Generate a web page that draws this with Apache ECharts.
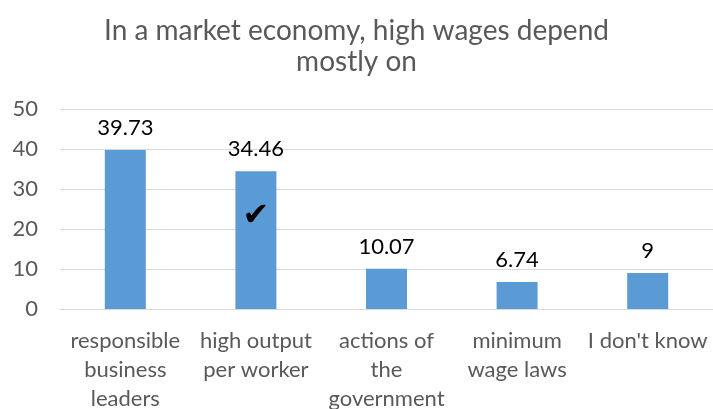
<!DOCTYPE html>
<html>
<head>
<meta charset="utf-8">
<script src="https://cdn.jsdelivr.net/npm/echarts@6/dist/echarts.min.js"></script>
<style>
  html, body { margin: 0; padding: 0; background: #fff; }
  #chart { width: 713px; height: 409px; }
</style>
</head>
<body>
<div id="chart"></div>
<script>
// Survey answers: what high wages depend on in a market economy
const categories = [
  'responsible\nbusiness\nleaders',
  'high output\nper worker',
  'actions of\nthe\ngovernment',
  'minimum\nwage laws',
  "I don't know"
];
const shares = [39.73, 34.46, 10.07, 6.74, 9];
const yTicks = { min: 0, max: 50, interval: 10 };
const correctIndex = 1;

const FONT = 'Lato, "Open Sans", sans-serif';

const chart = echarts.init(document.getElementById('chart'));
chart.setOption({
  animation: false,
  title: {
    text: 'In a market economy, high wages depend\nmostly on',
    left: 'center',
    top: 10,
    textStyle: {
      fontFamily: FONT,
      fontWeight: 'normal',
      fontSize: 28,
      lineHeight: 31,
      color: '#595959'
    }
  },
  grid: { left: 60, right: 0, top: 109, bottom: 100, outerBoundsMode: 'none', containLabel: false },
  xAxis: {
    type: 'category',
    data: categories,
    axisLine: { lineStyle: { color: '#d9d9d9' } },
    axisTick: { show: false },
    axisLabel: {
      interval: 0,
      margin: 17,
      fontFamily: FONT,
      fontSize: 22,
      lineHeight: 29,
      color: '#595959'
    }
  },
  yAxis: {
    type: 'value',
    min: yTicks.min,
    max: yTicks.max,
    interval: yTicks.interval,
    axisLine: { show: false },
    axisTick: { show: false },
    splitLine: { lineStyle: { color: '#d9d9d9', width: 1 } },
    axisLabel: {
      margin: 22,
      fontFamily: FONT,
      fontSize: 22,
      color: '#595959'
    }
  },
  series: [{
    type: 'bar',
    data: shares,
    barWidth: 41,
    itemStyle: { color: '#5b9bd5' },
    label: {
      show: true,
      position: 'top',
      distance: 11,
      fontFamily: FONT,
      fontSize: 22,
      color: '#000'
    },
    markPoint: {
      symbol: 'circle',
      symbolSize: 1,
      itemStyle: { color: 'rgba(0,0,0,0)' },
      label: {
        show: true,
        position: 'inside',
        formatter: '\u2714',
        fontFamily: '"DejaVu Sans"',
        fontSize: 32,
        color: '#000'
      },
      data: [{ coord: [correctIndex, 23] }]
    }
  }]
});
</script>
</body>
</html>
